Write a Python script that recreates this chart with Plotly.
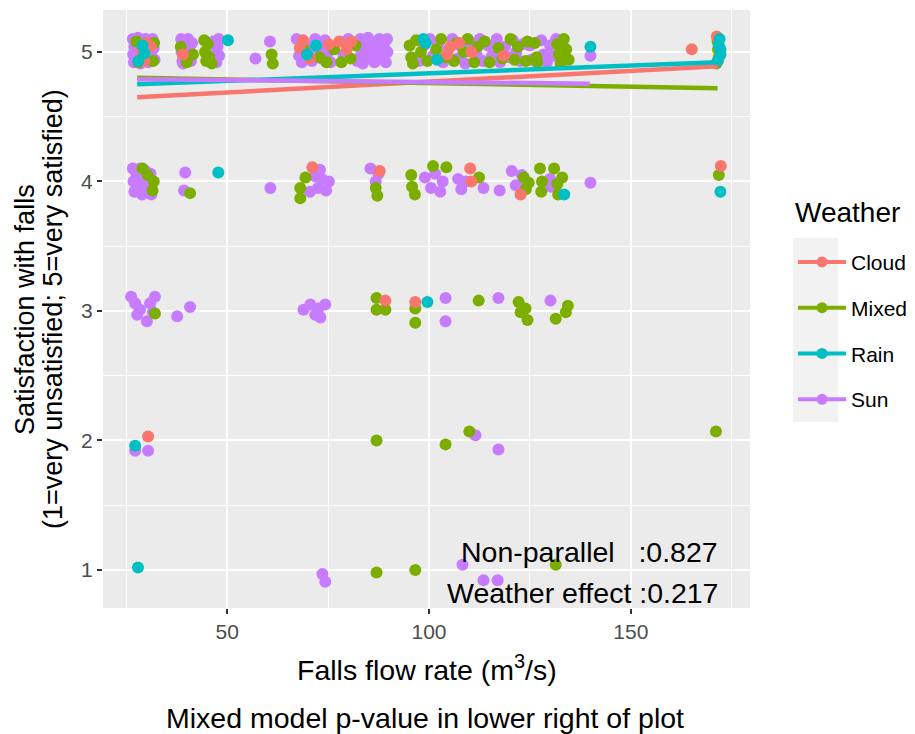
import plotly.graph_objects as go

# Weather groups and ggplot-style hue colours
weather = ["Cloud", "Mixed", "Rain", "Sun"]
colors = {"Cloud": "#F8766D", "Mixed": "#7CAE00", "Rain": "#00BFC4", "Sun": "#C77CFF"}

# Jittered survey responses: falls flow rate (m3/s) vs satisfaction (1-5)
sun_x = [
    # satisfaction 5
    26.6, 26.7, 26.9, 27.3, 27.6, 27.9, 28.2, 28.5, 28.9, 29.3, 29.8, 30.1, 30.4, 30.8,
    31.2, 31.5, 31.8, 32.0, 27.0, 29.0,
    38.6, 38.7, 38.9, 39.4, 39.8, 40.3, 40.6, 41.0, 41.3, 39.1,
    46.6, 46.9, 47.3, 47.6, 48.0, 47.9, 57.0, 60.6,
    67.2, 67.8, 68.5, 69.2, 70.2, 71.0, 71.8, 72.6, 73.4, 74.2, 75.0, 75.6,
    78.8, 80.0, 82.2,
    83.0, 83.2, 83.6, 84.3, 84.9, 85.4, 86.0, 86.5, 87.1, 87.7, 88.2, 88.8, 89.3, 89.6,
    89.7, 85.8,
    97.5, 98.8, 100.2, 101.0, 102.2, 103.5, 104.8, 105.8, 107.0, 108.0, 109.0, 110.6,
    111.8, 112.6, 113.4, 114.6, 115.6, 116.8, 117.6, 118.8, 119.8, 120.8, 121.6, 122.6,
    123.2,
    125.0, 125.4, 127.8, 128.4, 129.2, 130.0, 130.8, 131.5, 140.0,
    # satisfaction 4
    26.6, 26.8, 27.0, 27.5, 28.0, 28.4, 28.9, 29.3, 29.8, 30.2, 30.6, 31.2, 31.0,
    39.6, 39.3, 60.7,
    70.5, 71.8, 72.5, 73.5, 74.5, 73.0, 75.2,
    85.5, 87.5, 86.8,
    99.0, 100.5, 101.5, 102.8, 103.4, 107.2, 108.0, 109.2, 113.5, 117.5, 120.5, 121.5,
    123.0, 123.8, 130.0, 130.2, 140.0,
    # satisfaction 3
    26.2, 28.4, 30.9, 32.1, 27.7, 30.1, 31.6, 27.2, 37.6, 40.8,
    68.9, 70.6, 71.8, 73.1, 74.3, 72.6, 104.1, 104.1, 117.2, 130.1,
    # satisfaction 2
    27.2, 30.4, 111.5, 117.2,
    # satisfaction 1
    73.6, 74.3, 108.3, 113.5, 117.0,
]
sun_y = [
    5.10, 4.98, 4.92, 5.05, 4.95, 5.11, 5.00, 4.91, 5.08, 4.96, 5.10, 5.02, 4.92, 5.06,
    4.97, 5.10, 5.03, 4.94, 5.04, 4.93,
    5.10, 5.00, 4.93, 5.06, 4.96, 5.10, 5.02, 4.93, 5.07, 4.91,
    5.08, 4.98, 4.92, 5.04, 4.97, 5.10, 4.95, 5.08,
    5.10, 4.97, 4.92, 5.07, 5.00, 4.93, 5.10, 5.03, 4.95, 5.09, 5.00, 4.92,
    4.98, 5.10, 4.93,
    5.10, 4.98, 4.91, 5.04, 5.11, 4.96, 5.06, 4.92, 5.01, 5.10, 4.95, 5.05, 4.92, 5.10,
    5.00, 5.00,
    4.93, 5.05, 5.10, 4.97, 5.06, 4.92, 5.02, 5.10, 4.95, 5.04, 4.91, 5.07,
    4.98, 5.10, 4.93, 5.05, 4.97, 5.10, 4.92, 5.04, 4.96, 5.09, 5.00, 4.93,
    5.06,
    5.05, 4.94, 5.09, 4.98, 4.92, 5.05, 4.97, 5.10, 4.97,
    4.10, 4.00, 3.92, 4.06, 3.95, 4.10, 3.90, 4.02, 4.08, 3.94, 4.00, 3.90, 4.06,
    4.07, 3.93, 3.95,
    3.92, 4.04, 3.95, 4.02, 3.93, 4.09, 4.00,
    4.10, 4.06, 4.00,
    4.03, 3.95, 4.06, 3.92, 4.00, 4.02, 3.94, 4.00, 3.95, 3.93, 4.08, 3.97,
    4.05, 3.96, 4.02, 3.96, 3.99,
    3.11, 3.01, 3.06, 3.11, 2.97, 2.92, 2.99, 3.06, 2.96, 3.03,
    3.01, 3.05, 2.97, 2.95, 3.05, 3.02, 3.10, 2.92, 3.10, 3.08,
    1.92, 1.92, 2.04, 1.93,
    0.97, 0.91, 1.04, 0.92, 0.92,
]

mixed_x = [
    28.0, 29.6, 30.6, 31.6, 31.9, 27.5, 38.5, 40.0, 41.5,
    44.3, 44.5, 44.8, 45.2, 45.5, 46.2, 61.0, 61.3,
    69.0, 72.8, 74.6, 76.5, 78.3, 80.6, 81.8,
    95.2, 95.6, 96.0, 96.8, 98.0, 99.6, 101.8, 103.0, 104.0, 106.2, 106.8, 108.6,
    109.6, 111.2, 112.0, 113.8, 115.0, 117.2, 118.2, 120.2, 121.2, 122.0, 124.0, 124.4,
    126.2, 126.6, 126.8, 131.8, 132.2, 132.6, 133.4, 134.0, 134.6,
    171.5, 171.8, 171.2, 171.6,
    29.0, 30.3, 31.5, 31.8, 40.8, 68.1, 69.4, 68.1, 86.8, 87.2,
    95.6, 95.8, 96.5, 101.0, 104.3, 112.4, 123.5, 124.0, 124.7,
    127.5, 128.0, 127.8, 131.0, 131.8, 132.0, 133.0, 171.8,
    32.1, 87.0, 87.0, 89.2, 96.6, 96.6, 112.3, 122.2, 122.7, 123.9, 124.4,
    131.4, 133.9, 134.4,
    87.0, 104.1, 110.0, 171.1,
    87.0, 96.6, 131.4,
]
mixed_y = [
    4.92, 4.95, 5.04, 4.93, 5.07, 5.08, 5.04, 4.92, 4.98,
    5.09, 5.00, 4.93, 5.06, 4.96, 4.91, 4.98, 4.91,
    5.02, 4.96, 4.92, 5.02, 4.92, 4.95, 5.05,
    5.05, 4.96, 4.91, 5.09, 5.00, 4.93, 5.02, 5.10, 4.96, 4.93, 5.07, 5.00,
    5.10, 4.92, 5.04, 5.08, 4.92, 5.03, 4.95, 5.10, 4.94, 5.04, 4.93, 5.08,
    5.07, 4.96, 4.92, 5.06, 4.98, 4.91, 5.10, 5.02, 4.94,
    5.08, 4.96, 4.91, 5.02,
    4.10, 4.05, 3.93, 4.00, 3.91, 3.95, 4.03, 3.87, 3.95, 3.89,
    4.05, 3.96, 3.90, 4.12, 4.11, 4.03, 4.03, 3.94, 3.99,
    4.10, 4.00, 3.92, 4.10, 3.98, 3.90, 4.03, 4.05,
    2.98, 3.10, 3.01, 3.01, 3.02, 2.91, 3.08, 3.07, 2.99, 3.02, 2.93,
    2.94, 2.99, 3.04,
    2.00, 1.97, 2.07, 2.07,
    0.98, 1.00, 1.04,
]

cloud_x = [
    28.8, 29.5, 30.0, 31.0, 39.0, 68.0, 68.8, 70.5, 75.2, 77.8, 79.6, 80.8,
    104.5, 105.3, 107.5, 110.5, 118.5, 165.1, 171.3, 172.0, 171.6,
    71.1, 87.8, 110.2, 110.5, 122.7, 172.3,
    89.2, 96.6,
    30.4,
]
cloud_y = [
    5.00, 4.93, 5.07, 5.04, 4.98, 5.03, 5.09, 4.95, 5.06, 5.08, 5.02, 5.08,
    4.98, 5.04, 5.07, 5.00, 4.97, 5.02, 5.12, 5.03, 4.93,
    4.11, 4.08, 4.10, 4.00, 3.90, 4.12,
    3.08, 3.07,
    2.03,
]

rain_x = [
    29.0, 29.5, 28.0, 50.2, 69.8, 72.0, 98.6, 99.2, 102.0, 140.0,
    171.8, 172.2, 171.5, 172.0, 172.2,
    47.8, 133.5, 172.2,
    99.6,
    27.2,
    27.9,
]
rain_y = [
    5.05, 4.99, 4.93, 5.09, 4.98, 5.05, 5.10, 5.07, 4.94, 5.04,
    5.05, 4.98, 4.93, 5.10, 5.02,
    4.07, 3.90, 3.92,
    3.07,
    1.96,
    1.02,
]

points = {
    "Sun": (sun_x, sun_y),
    "Mixed": (mixed_x, mixed_y),
    "Cloud": (cloud_x, cloud_y),
    "Rain": (rain_x, rain_y),
}

# Fitted linear trends per weather group (start/end of each line)
trend_x0 = {"Cloud": 27.7, "Mixed": 27.7, "Rain": 27.7, "Sun": 27.7}
trend_x1 = {"Cloud": 171.5, "Mixed": 171.5, "Rain": 171.5, "Sun": 139.8}
trend_y0 = {"Cloud": 4.65, "Mixed": 4.80, "Rain": 4.75, "Sun": 4.79}
trend_y1 = {"Cloud": 4.89, "Mixed": 4.72, "Rain": 4.92, "Sun": 4.755}

# Mixed-model p-values
p_nonparallel = "0.827"
p_weather = "0.217"

x_ticks = [50, 100, 150]
y_ticks = [1, 2, 3, 4, 5]

FONT = "Liberation Sans, Arial, sans-serif"

fig = go.Figure()

for w in ["Sun", "Mixed", "Cloud", "Rain"]:
    xs, ys = points[w]
    fig.add_trace(go.Scatter(
        x=xs, y=ys, mode="markers", showlegend=False, hoverinfo="skip",
        marker=dict(size=12, color=colors[w], line=dict(width=0)),
    ))

for w in weather:
    fig.add_trace(go.Scatter(
        x=[trend_x0[w], trend_x1[w]], y=[trend_y0[w], trend_y1[w]],
        mode="lines", showlegend=False, hoverinfo="skip",
        line=dict(color=colors[w], width=4.5),
    ))

# Legend entries: line with a point, like the ggplot key
for w in weather:
    fig.add_trace(go.Scatter(
        x=[None], y=[None], mode="lines+markers", name=w, legendgroup=w,
        line=dict(color=colors[w], width=4),
        marker=dict(size=11, color=colors[w]),
    ))

# Grey background behind the legend keys
fig.add_shape(type="rect", xref="paper", yref="paper",
              x0=1.0665, x1=1.136, y0=0.311, y1=0.6187,
              fillcolor="#F2F2F2", line=dict(width=0), layer="below")

annots = [
    dict(text="Non-parallel\u00a0\u00a0\u00a0:" + p_nonparallel, x=0.9536, y=0.0936,
         xanchor="right", yanchor="middle", font=dict(size=28.5, color="black")),
    dict(text="Weather effect :" + p_weather, x=0.9536, y=0.0251,
         xanchor="right", yanchor="middle", font=dict(size=28.5, color="black")),
    dict(text="Falls flow rate (m<sup>3</sup>/s)", x=0.5, y=-0.1003,
         xanchor="center", yanchor="middle", font=dict(size=28.5, color="black")),
    dict(text="Mixed model p-value in lower right of plot", x=0.497, y=-0.184,
         xanchor="center", yanchor="middle", font=dict(size=28.5, color="black")),
    dict(text="Satisfaction with falls", x=-0.1206, y=0.5, textangle=-90,
         xanchor="center", yanchor="middle", font=dict(size=27, color="black")),
    dict(text="(1=very unsatisfied; 5=very satisfied)", x=-0.0773, y=0.5, textangle=-90,
         xanchor="center", yanchor="middle", font=dict(size=27, color="black")),
    dict(text="Weather", x=1.0665, y=0.6622, xanchor="left", yanchor="middle",
         font=dict(size=28, color="black")),
]
for a in annots:
    fig.add_annotation(xref="paper", yref="paper", showarrow=False, **a)

fig.update_layout(
    width=915, height=734,
    margin=dict(l=103, r=165, t=10, b=126, autoexpand=False),
    paper_bgcolor="white", plot_bgcolor="#EBEBEB",
    font=dict(family=FONT, color="black"),
    legend=dict(
        x=1.0665, xanchor="left", y=0.6125, yanchor="top",
        font=dict(size=21), tracegroupgap=15.5, itemwidth=48,
        bgcolor="rgba(0,0,0,0)",
    ),
)
fig.update_xaxes(
    range=[19.23, 179.53], tickvals=x_ticks, ticks="outside", ticklen=5,
    tickwidth=1.5, tickcolor="#333333", tickfont=dict(size=21, color="#4D4D4D"),
    showgrid=True, gridcolor="white", gridwidth=2, zeroline=False, showline=False,
    minor=dict(dtick=25, tick0=0, showgrid=True, gridcolor="white", gridwidth=1),
)
fig.update_yaxes(
    range=[0.7066, 5.324], tickvals=y_ticks, ticks="outside", ticklen=5,
    tickwidth=1.5, tickcolor="#333333", tickfont=dict(size=21, color="#4D4D4D"),
    showgrid=True, gridcolor="white", gridwidth=2, zeroline=False, showline=False,
    minor=dict(dtick=0.5, tick0=0, showgrid=True, gridcolor="white", gridwidth=1),
)

fig.write_html("out.html")
